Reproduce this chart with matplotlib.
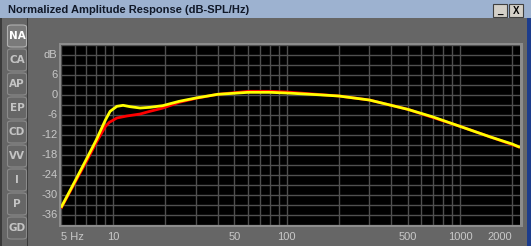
import matplotlib
matplotlib.use("Agg")
import matplotlib.pyplot as plt
from matplotlib.patches import Rectangle, FancyBboxPatch
from matplotlib.ticker import FixedLocator, NullFormatter

# data
freq_y = [5, 6, 7, 8, 9, 9.6, 10.5, 11.4, 12.5, 14.3, 16.3, 19.3, 24, 30, 40,
          60, 80, 100, 150, 200, 300, 500, 700, 1000, 1500, 2000, 2220]
db_yellow = [-33.8, -26.0, -19.3, -13.4, -7.6, -4.9, -3.4, -3.1, -3.5, -3.9, -3.7,
             -3.2, -1.9, -0.9, 0.2, 0.8, 0.8, 0.6, 0.1, -0.3, -1.5, -4.3, -6.6, -9.4,
             -12.6, -14.7, -15.7]
freq_r = [5, 6, 7, 8, 9, 9.5, 10.5, 12, 14.3, 16, 19.4, 24, 30, 40, 60, 80, 100,
          150, 200, 300, 500, 1000, 2220]
db_red = [-34.0, -26.4, -20.0, -14.2, -9.5, -8.2, -6.9, -6.3, -5.7, -5.0, -3.9, -2.2,
          -1.0, 0.2, 1.1, 1.1, 0.9, 0.2, -0.3, -1.5, -4.3, -9.4, -15.7]

x_ticks = [5, 10, 50, 100, 500, 1000, 2000]
x_labels = ["5 Hz", "10", "50", "100", "500", "1000", "2000"]
x_grid = [5, 6, 7, 8, 9, 10, 20, 30, 40, 50, 60, 70, 80, 90, 100,
          200, 300, 400, 500, 600, 700, 800, 900, 1000, 2000]
y_ticks = [-36, -30, -24, -18, -12, -6, 0, 6, 12]
y_labels = ["-36", "-30", "-24", "-18", "-12", "-6", "0", "6", "dB"]
tabs = ["NA", "CA", "AP", "EP", "CD", "VV", "I", "P", "GD"]

W, H = 531, 246
bg = "#666666"
fig = plt.figure(figsize=(W / 100, H / 100), dpi=100, facecolor=bg)


def px(x, y, w, h):
    # pixel box (top-left origin) -> figure fraction rect
    return (x / W, 1 - (y + h) / H, w / W, h / H)


# window title bar
fig.patches.append(Rectangle((0, 1 - 18 / H), 1, 18 / H, transform=fig.transFigure,
                             facecolor="#9db2d0", edgecolor="none", zorder=-2))
fig.text(8 / W, 1 - 10 / H, "Normalized Amplitude Response (dB-SPL/Hz)",
         family="Liberation Sans", fontsize=8, fontweight="bold", color="#101828",
         va="center", ha="left")
for bx, sym in [(493, "_"), (509, "X")]:
    r = px(bx, 4, 14, 13)
    fig.patches.append(Rectangle(r[:2], r[2], r[3], transform=fig.transFigure,
                                 facecolor="#d4d0c8", edgecolor="#404040", lw=0.8))
    fig.text((bx + 7) / W, 1 - 11 / H, sym, ha="center", va="center",
             fontsize=7, fontweight="bold", color="black", family="Liberation Sans")

# right edge strip and left separators
fig.patches.append(Rectangle((527 / W, 0), 4 / W, 1 - 18 / H, transform=fig.transFigure,
                             facecolor="#1c3c8c", edgecolor="none", zorder=-2))
fig.patches.append(Rectangle((0, 0), 2 / W, 1 - 18 / H, transform=fig.transFigure,
                             facecolor="#3a3a3a", edgecolor="none", zorder=-2))
fig.patches.append(Rectangle((26.5 / W, 0), 1 / W, 1 - 18 / H, transform=fig.transFigure,
                             facecolor="#3a3a3a", edgecolor="none", zorder=-2))

# side tabs
for i, t in enumerate(tabs):
    top = 25 + i * 24
    r = px(7.5, top, 19, 22)
    active = i == 0
    fig.patches.append(FancyBboxPatch(r[:2], r[2], r[3], transform=fig.transFigure,
                                      boxstyle="round,pad=0,rounding_size=0.008",
                                      facecolor="#7a7a7a" if active else "#666666",
                                      edgecolor="#b0b0b0" if active else "#8a8a8a",
                                      lw=0.8, zorder=-1))
    fig.text(17 / W, 1 - (top + 11) / H, t, ha="center", va="center",
             fontsize=7.5, fontweight="bold", family="DejaVu Sans",
             color="white" if active else "#c4c4c4")

# plot frame (light border) and axes
fr = px(59, 43, 464, 184)
fig.patches.append(Rectangle(fr[:2], fr[2], fr[3], transform=fig.transFigure,
                             facecolor="#8c8c8c", edgecolor="none", zorder=-1))
ax = fig.add_axes(px(61, 45, 459, 180))
ax.set_zorder(2)
ax.set_facecolor("black")
ax.set_xscale("log")
ax.set_xlim(5, 2220)
ax.set_ylim(-39, 15)

ax.xaxis.set_major_locator(FixedLocator(x_grid))
ax.xaxis.set_minor_locator(FixedLocator([]))
ax.xaxis.set_major_formatter(NullFormatter())
ax.xaxis.set_minor_formatter(NullFormatter())
ax.yaxis.set_major_locator(FixedLocator(range(-39, 16, 3)))
ax.yaxis.set_major_formatter(NullFormatter())
ax.grid(True, color="#505050", lw=1)
ax.tick_params(length=0)
for s in ax.spines.values():
    s.set_visible(False)

for f, lab in zip(x_ticks, x_labels):
    ax.text(f, -42.5, lab, ha="left" if lab == "5 Hz" else ("right" if lab == "2000" else "center"),
            va="center", fontsize=8, color="#c8c8c8", family="Liberation Sans", clip_on=False,
            transform=ax.transData)
for v, lab in zip(y_ticks, y_labels):
    ax.text(-0.008, v, lab, ha="right", va="center", fontsize=8, color="#c8c8c8",
            family="Liberation Sans", transform=ax.get_yaxis_transform(), clip_on=False)

ax.plot(freq_r, db_red, color="#ff0000", lw=2, solid_capstyle="butt")
ax.plot(freq_y, db_yellow, color="#ffff00", lw=2, solid_capstyle="butt")

fig.savefig("out.png", dpi=100, facecolor=bg)
